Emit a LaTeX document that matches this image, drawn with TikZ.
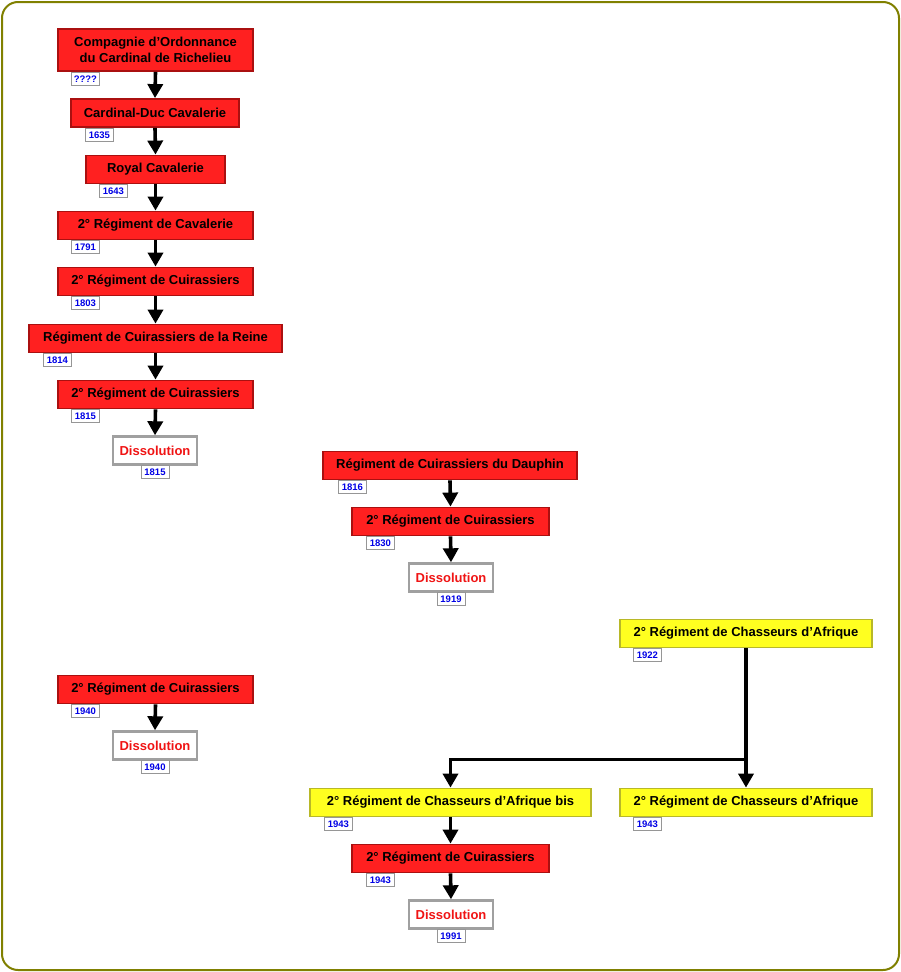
\documentclass[tikz,border=0pt]{standalone}
\usepackage{fontspec}
\setmainfont{Liberation Sans}
\usetikzlibrary{arrows.meta}
\definecolor{boxred}{RGB}{255,32,32}
\definecolor{boxredline}{RGB}{170,16,16}
\definecolor{boxyellow}{RGB}{255,255,32}
\definecolor{boxyellowline}{RGB}{184,184,40}
\definecolor{frameolive}{RGB}{128,128,0}
\definecolor{tagblue}{RGB}{0,0,230}
\definecolor{tagline}{RGB}{150,150,150}
\definecolor{dissline}{RGB}{160,160,160}
\definecolor{dissred}{RGB}{240,20,20}
\tikzset{
  x=1pt, y=-1pt,
  unitbox/.style={rectangle, inner sep=0pt, minimum height=28pt, line width=1.8pt, align=center,
    font=\fontsize{13}{16.5}\selectfont\bfseries},
  redbox/.style={unitbox, fill=boxred, draw=boxredline},
  yellowbox/.style={unitbox, fill=boxyellow, draw=boxyellowline},
  dissbox/.style={unitbox, fill=white, draw=dissline, line width=2.4pt, text=dissred, minimum width=84pt},
  yeartag/.style={rectangle, inner sep=0pt, minimum width=28pt, minimum height=13pt, fill=white,
    draw=tagline, line width=0.8pt, text=tagblue, font=\fontsize{9.5}{10}\selectfont\bfseries},
  arr/.style={line width=3.6pt, -{Triangle[width=15pt,length=14pt]}},
}
\begin{document}
\begin{tikzpicture}
\useasboundingbox (0,0) rectangle (901,972);
\draw[frameolive, line width=2pt, rounded corners=16pt, fill=white] (2,2) rectangle (899,970);

% Column A
\node[redbox, minimum width=195pt, minimum height=42pt] (a1) at (155.5,50) {Compagnie d’Ordonnance\\du Cardinal de Richelieu};
\node[yeartag, anchor=north west] (t1) at (71,72) {????};
\node[redbox, minimum width=168pt] (a2) at (155,113) {Cardinal-Duc Cavalerie};
\node[yeartag, anchor=north west] (t2) at (85,128) {1635};
\node[redbox, minimum width=139pt] (a3) at (155.5,169.5) {Royal Cavalerie};
\node[yeartag, anchor=north west] (t3) at (99,184) {1643};
\node[redbox, minimum width=195pt] (a4) at (155.5,225.5) {2° Régiment de Cavalerie};
\node[yeartag, anchor=north west] (t4) at (71,240) {1791};
\node[redbox, minimum width=195pt] (a5) at (155.5,281.5) {2° Régiment de Cuirassiers};
\node[yeartag, anchor=north west] (t5) at (71,296) {1803};
\node[redbox, minimum width=253pt] (a6) at (155.5,338.5) {Régiment de Cuirassiers de la Reine};
\node[yeartag, anchor=north west] (t6) at (43,353) {1814};
\node[redbox, minimum width=195pt] (a7) at (155.5,394.5) {2° Régiment de Cuirassiers};
\node[yeartag, anchor=north west] (t7) at (71,409) {1815};
\node[dissbox] (a8) at (155,450.5) {Dissolution};
\node[yeartag, anchor=north] (t8) at (155,465) {1815};

\draw[arr] (a1.south) -- (a2.north);
\draw[arr] (a2.south) -- (a3.north);
\draw[arr] (a3.south) -- (a4.north);
\draw[arr] (a4.south) -- (a5.north);
\draw[arr] (a5.south) -- (a6.north);
\draw[arr] (a6.south) -- (a7.north);
\draw[arr] (a7.south) -- (a8.north);

% Column B
\node[redbox, minimum width=254pt] (b1) at (450,465.5) {Régiment de Cuirassiers du Dauphin};
\node[yeartag, anchor=north west] (u1) at (338,480) {1816};
\node[redbox, minimum width=197pt] (b2) at (450.5,521.5) {2° Régiment de Cuirassiers};
\node[yeartag, anchor=north west] (u2) at (366,536) {1830};
\node[dissbox] (b3) at (451,577.5) {Dissolution};
\node[yeartag, anchor=north] (u3) at (451,592) {1919};
\draw[arr] (b1.south) -- (b2.north);
\draw[arr] (b2.south) -- (b3.north);

% Column D (1940)
\node[redbox, minimum width=195pt] (d1) at (155.5,689.5) {2° Régiment de Cuirassiers};
\node[yeartag, anchor=north west] (v1) at (71,704) {1940};
\node[dissbox] (d2) at (155,745.5) {Dissolution};
\node[yeartag, anchor=north] (v2) at (155,760) {1940};
\draw[arr] (d1.south) -- (d2.north);

% Chasseurs d'Afrique
\node[yellowbox, minimum width=252pt] (c1) at (746,633.5) {2° Régiment de Chasseurs d’Afrique};
\node[yeartag, anchor=north west] (w1) at (633,648) {1922};
\node[yellowbox, minimum width=252pt] (c2) at (746,802.5) {2° Régiment de Chasseurs d’Afrique};
\node[yeartag, anchor=north west] (w2) at (633,817) {1943};
\node[yellowbox, minimum width=281pt] (e1) at (450.5,802.5) {2° Régiment de Chasseurs d’Afrique bis};
\node[yeartag, anchor=north west] (x1) at (324,817) {1943};
\node[redbox, minimum width=197pt] (e2) at (450.5,858.5) {2° Régiment de Cuirassiers};
\node[yeartag, anchor=north west] (x2) at (366,873) {1943};
\node[dissbox] (e3) at (451,914.5) {Dissolution};
\node[yeartag, anchor=north] (x3) at (451,929) {1991};

\coordinate (br) at (746,759.5);
\draw[arr] (c1.south) -- (c2.north);
\draw[arr] (br) -| (e1.north);
\draw[arr] (e1.south) -- (e2.north);
\draw[arr] (e2.south) -- (e3.north);
\end{tikzpicture}
\end{document}
